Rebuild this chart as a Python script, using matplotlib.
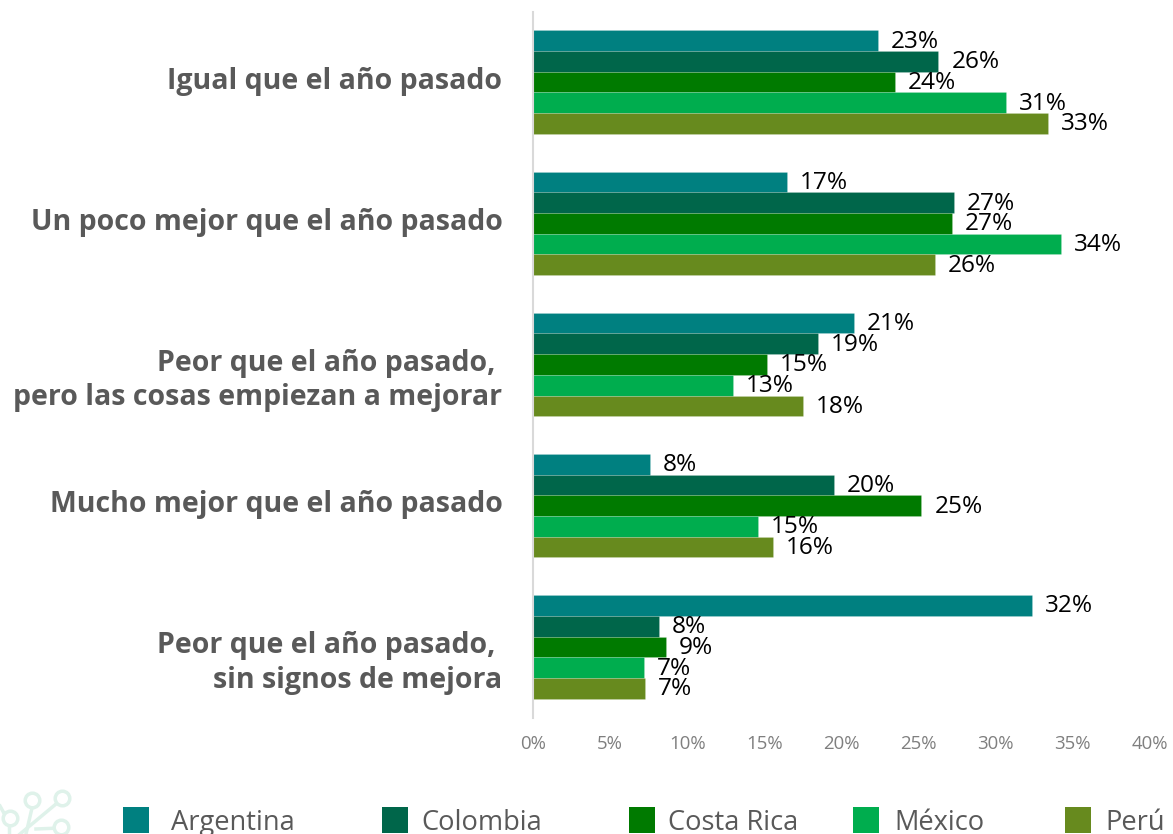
import numpy as np
import matplotlib
matplotlib.use('Agg')
import matplotlib.pyplot as plt
from matplotlib.patches import Rectangle
from matplotlib.lines import Line2D
from matplotlib.transforms import ScaledTranslation

plt.rcParams['font.family'] = ['Open Sans', 'DejaVu Sans']

categories = ['Igual que el año pasado',
              'Un poco mejor que el año pasado',
              'Peor que el año pasado, \npero las cosas empiezan a mejorar',
              'Mucho mejor que el año pasado',
              'Peor que el año pasado, \nsin signos de mejora']
countries = ['Argentina', 'Colombia', 'Costa Rica', 'México', 'Perú']
colors = ['#008080', '#00664a', '#007a00', '#00ad4e', '#678a1e']
argentina = [22.4, 16.5, 20.8, 7.6, 32.4]
colombia = [26.3, 27.3, 18.5, 19.5, 8.15]
costa_rica = [23.5, 27.2, 15.2, 25.2, 8.6]
mexico = [30.7, 34.25, 13.0, 14.6, 7.2]
peru = [33.4, 26.1, 17.5, 15.55, 7.25]
series = [argentina, colombia, costa_rica, mexico, peru]
labels_argentina = ['23%', '17%', '21%', '8%', '32%']
labels_colombia = ['26%', '27%', '19%', '20%', '8%']
labels_costa_rica = ['24%', '27%', '15%', '25%', '9%']
labels_mexico = ['31%', '34%', '13%', '15%', '7%']
labels_peru = ['33%', '26%', '18%', '16%', '7%']
series_labels = [labels_argentina, labels_colombia, labels_costa_rica, labels_mexico, labels_peru]
xticks = [0, 5, 10, 15, 20, 25, 30, 35, 40]

W, H = 1173, 834
fig = plt.figure(figsize=(W/100, H/100), dpi=100)
ax = fig.add_axes([533/W, 1-717.5/H, 616.5/W, 706/H])

h = 0.1466
y = np.arange(5) + 0.5
for i in range(5):
    ypos = y + (i-2)*h
    ax.barh(ypos, series[i], height=h, color=colors[i], edgecolor='#ffffff40', linewidth=0.4, zorder=2)
    for yy, v, lab in zip(ypos, series[i], series_labels[i]):
        ax.annotate(lab, (v, yy), xytext=(9.3, 1.5), textcoords='offset points', va='center_baseline',
                    ha='left', fontsize=17.6, color='black', zorder=5)

ax.set_xlim(0, 40)
ax.set_ylim(5, 0)
ax.set_xticks(xticks)
ax.set_xticklabels([f'{t}%' for t in xticks], fontsize=13.4, color='#7f7f7f')
ax.set_yticks(y)
ax.set_yticklabels(categories, fontsize=20.5, fontweight='bold', color='#595959', ha='right',
                   va='top', linespacing=1.24)
ax.tick_params(axis='both', length=0)
ax.tick_params(axis='x', pad=12.5)
ax.tick_params(axis='y', pad=22)
for lab in ax.get_yticklabels():
    lab.set_transform(lab.get_transform() + ScaledTranslation(0, 15.5/100, fig.dpi_scale_trans))
for s in ['top', 'right', 'bottom']:
    ax.spines[s].set_visible(False)
ax.spines['left'].set_color('#d9d9d9')
ax.spines['left'].set_linewidth(1.5)

# legend, laid out by hand
leg_x = [123, 382, 629, 853, 1065]
txt_x = [171, 421, 668, 894, 1105]
for lx, tx, c, name in zip(leg_x, txt_x, colors, countries):
    fig.add_artist(Rectangle((lx/W, 1-833/H), 26/W, 26/H, transform=fig.transFigure, color=c, lw=0))
    fig.text(tx/W, 1-830/H, name, fontsize=19.6, color='#595959', ha='left', va='baseline')

# faint logo in the corner
logo = '#dff2ea'
for (x0, y0, x1, y1) in [(26, 834, 32, 808), (20, 834, 56, 804), (36, 829, 60, 828), (0, 806, 5, 815), (9, 824, 9, 834)]:
    fig.add_artist(Line2D([x0/W, x1/W], [1-y0/H, 1-y1/H], color=logo, lw=2.5))
for (cx, cy) in [(32, 800), (62, 798), (61, 827), (10, 818)]:
    fig.add_artist(Line2D([cx/W], [1-cy/H], marker='o', ms=10.5, mfc='white', mec=logo, mew=2.5, ls=''))

fig.savefig('out.png', dpi=100)
